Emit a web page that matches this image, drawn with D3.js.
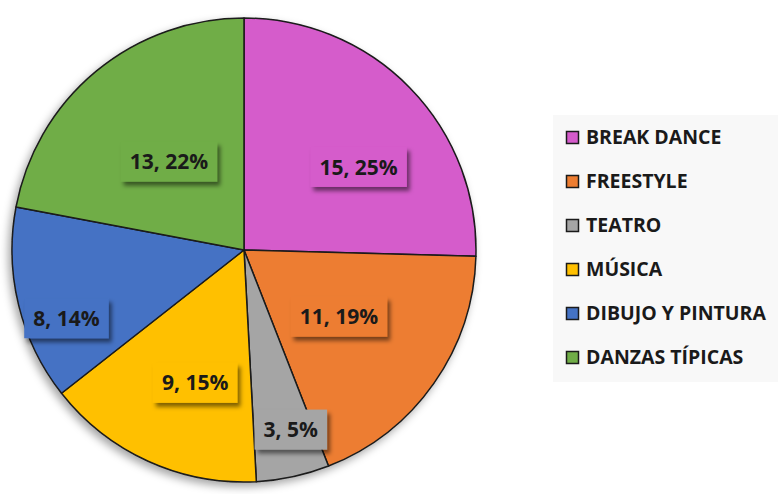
<!DOCTYPE html>
<html><head><meta charset="utf-8">
<script src="https://cdn.jsdelivr.net/npm/d3@7"></script>
<style>html,body{margin:0;padding:0;background:#fff;}svg{display:block;}</style>
</head><body>
<svg id="chart" width="778" height="494"></svg>
<script>
const categories = ["BREAK DANCE","FREESTYLE","TEATRO","MÚSICA","DIBUJO Y PINTURA","DANZAS TÍPICAS"];
const values = [15, 11, 3, 9, 8, 13];
const colors = ["#D55BCB","#ED7D31","#A5A5A5","#FFC000","#4472C4","#70AD47"];
// label placement (Excel best-fit): angle shift (deg) from slice middle, radius fraction
const labelShift = [8.3, 0, -2.4, -4.2, -7.3, -0.7];
const labelRadius = [0.61, 0.50, 0.80, 0.61, 0.82, 0.50];

const svg = d3.select("#chart");
const W = 778, H = 494;
const cx = 244, cy = 250, R = 232;

const defs = svg.append("defs");
const f1 = defs.append("filter").attr("id","pieShadow").attr("x","-20%").attr("y","-20%").attr("width","140%").attr("height","140%");
f1.append("feDropShadow").attr("dx",-3).attr("dy",4).attr("stdDeviation",4).attr("flood-color","#000").attr("flood-opacity",0.35);
const f2 = defs.append("filter").attr("id","boxShadow").attr("x","-20%").attr("y","-30%").attr("width","150%").attr("height","170%");
f2.append("feDropShadow").attr("dx",3).attr("dy",4).attr("stdDeviation",2).attr("flood-color","#000").attr("flood-opacity",0.5);

const total = d3.sum(values);
const pie = d3.pie().sort(null).value(d => d)(values);
const arc = d3.arc().innerRadius(0).outerRadius(R);

const g = svg.append("g").attr("transform", `translate(${cx},${cy})`);
const slices = g.append("g").attr("filter","url(#pieShadow)");
slices.selectAll("path").data(pie).join("path")
  .attr("d", arc)
  .attr("fill", (d,i) => colors[i])
  .attr("stroke", "#1a1a1a")
  .attr("stroke-width", 1.5)
  .attr("stroke-linejoin","round");

// data labels
const lbl = g.append("g");
pie.forEach((d,i) => {
  const mid = (d.startAngle + d.endAngle)/2 + labelShift[i]*Math.PI/180;
  const r = R*labelRadius[i];
  const x = r*Math.sin(mid), y = -r*Math.cos(mid);
  const pct = Math.round(values[i]/total*100);
  const text = `${values[i]}, ${pct}%`;
  const lg = lbl.append("g").attr("transform", `translate(${x},${y})`);
  const rect = lg.append("rect").attr("fill", colors[i]).attr("filter","url(#boxShadow)");
  const t = lg.append("text")
    .attr("text-anchor","middle").attr("dy","0.36em")
    .attr("font-family","'Open Sans', sans-serif").attr("font-weight",700)
    .attr("font-size",21).attr("fill","#1a1a1a").text(text);
  const bb = t.node().getBBox();
  rect.attr("x", bb.x-9).attr("y", -20).attr("width", bb.width+18).attr("height", 40);
});

// legend
const legend = svg.append("g");
legend.append("rect").attr("x",553).attr("y",115).attr("width",W-553).attr("height",267).attr("fill","#f8f8f8");
const ly = d3.scalePoint().domain(categories).range([137, 357]);
categories.forEach((c,i) => {
  const y = ly(c);
  legend.append("rect").attr("x",566.5).attr("y",y-5.5).attr("width",12).attr("height",12)
    .attr("fill",colors[i]).attr("stroke","#1a1a1a").attr("stroke-width",1.5);
  legend.append("text").attr("x",586).attr("y",y).attr("dy","0.36em")
    .attr("font-family","'Open Sans', sans-serif").attr("font-weight",700)
    .attr("font-size",19.5).attr("letter-spacing",0).attr("fill","#1a1a1a").text(c);
});
</script>
</body></html>
